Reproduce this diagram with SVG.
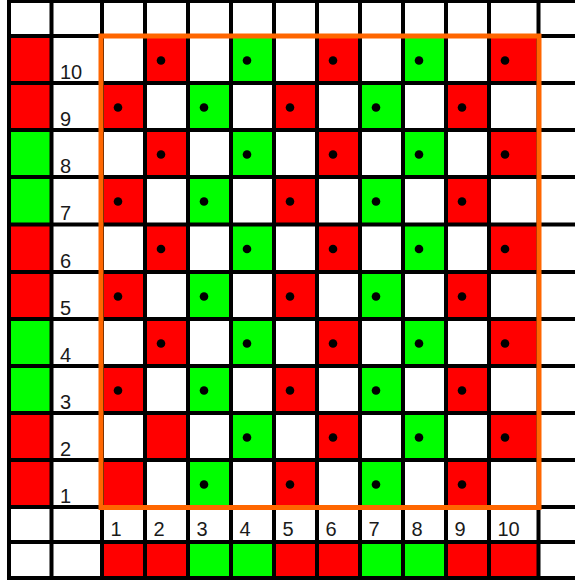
<svg xmlns="http://www.w3.org/2000/svg" width="575" height="583" viewBox="0 0 575 583">
<style>
.r{fill:#FF0000}
.g{fill:#00FF00}
.ln{stroke:#000;stroke-width:4;fill:none}
.d{fill:#000}
.t{font-family:"Liberation Sans",Arial,sans-serif;font-size:20px;fill:#1a1a1a}
.frame{fill:none;stroke:#FF6600;stroke-width:5}
</style>
<rect x="0" y="0" width="575" height="583" fill="#fff"/>
<g id="left-colors">
<rect class="r" x="9" y="36" width="42.5" height="47"/>
<rect class="r" x="9" y="83" width="42.5" height="47"/>
<rect class="g" x="9" y="130" width="42.5" height="47"/>
<rect class="g" x="9" y="177" width="42.5" height="47.5"/>
<rect class="r" x="9" y="224.5" width="42.5" height="47.5"/>
<rect class="r" x="9" y="272" width="42.5" height="47"/>
<rect class="g" x="9" y="319" width="42.5" height="47"/>
<rect class="g" x="9" y="366" width="42.5" height="47"/>
<rect class="r" x="9" y="413" width="42.5" height="47"/>
<rect class="r" x="9" y="460" width="42.5" height="47"/>
</g>
<g id="bottom-colors">
<rect class="r" x="102" y="542" width="43" height="36"/>
<rect class="r" x="145" y="542" width="43" height="36"/>
<rect class="g" x="188" y="542" width="43" height="36"/>
<rect class="g" x="231" y="542" width="43" height="36"/>
<rect class="r" x="274" y="542" width="43" height="36"/>
<rect class="r" x="317" y="542" width="43" height="36"/>
<rect class="g" x="360" y="542" width="43" height="36"/>
<rect class="g" x="403" y="542" width="43" height="36"/>
<rect class="r" x="446" y="542" width="43" height="36"/>
<rect class="r" x="489" y="542" width="49.5" height="36"/>
</g>
<g id="cells">
<rect class="r" x="145" y="36" width="43" height="47"/><rect class="g" x="231" y="36" width="43" height="47"/><rect class="r" x="317" y="36" width="43" height="47"/><rect class="g" x="403" y="36" width="43" height="47"/><rect class="r" x="489" y="36" width="49.5" height="47"/>
<rect class="r" x="102" y="83" width="43" height="47"/><rect class="g" x="188" y="83" width="43" height="47"/><rect class="r" x="274" y="83" width="43" height="47"/><rect class="g" x="360" y="83" width="43" height="47"/><rect class="r" x="446" y="83" width="43" height="47"/>
<rect class="r" x="145" y="130" width="43" height="47"/><rect class="g" x="231" y="130" width="43" height="47"/><rect class="r" x="317" y="130" width="43" height="47"/><rect class="g" x="403" y="130" width="43" height="47"/><rect class="r" x="489" y="130" width="49.5" height="47"/>
<rect class="r" x="102" y="177" width="43" height="47.5"/><rect class="g" x="188" y="177" width="43" height="47.5"/><rect class="r" x="274" y="177" width="43" height="47.5"/><rect class="g" x="360" y="177" width="43" height="47.5"/><rect class="r" x="446" y="177" width="43" height="47.5"/>
<rect class="r" x="145" y="224.5" width="43" height="47.5"/><rect class="g" x="231" y="224.5" width="43" height="47.5"/><rect class="r" x="317" y="224.5" width="43" height="47.5"/><rect class="g" x="403" y="224.5" width="43" height="47.5"/><rect class="r" x="489" y="224.5" width="49.5" height="47.5"/>
<rect class="r" x="102" y="272" width="43" height="47"/><rect class="g" x="188" y="272" width="43" height="47"/><rect class="r" x="274" y="272" width="43" height="47"/><rect class="g" x="360" y="272" width="43" height="47"/><rect class="r" x="446" y="272" width="43" height="47"/>
<rect class="r" x="145" y="319" width="43" height="47"/><rect class="g" x="231" y="319" width="43" height="47"/><rect class="r" x="317" y="319" width="43" height="47"/><rect class="g" x="403" y="319" width="43" height="47"/><rect class="r" x="489" y="319" width="49.5" height="47"/>
<rect class="r" x="102" y="366" width="43" height="47"/><rect class="g" x="188" y="366" width="43" height="47"/><rect class="r" x="274" y="366" width="43" height="47"/><rect class="g" x="360" y="366" width="43" height="47"/><rect class="r" x="446" y="366" width="43" height="47"/>
<rect class="r" x="145" y="413" width="43" height="47"/><rect class="g" x="231" y="413" width="43" height="47"/><rect class="r" x="317" y="413" width="43" height="47"/><rect class="g" x="403" y="413" width="43" height="47"/><rect class="r" x="489" y="413" width="49.5" height="47"/>
<rect class="r" x="102" y="460" width="43" height="47"/><rect class="g" x="188" y="460" width="43" height="47"/><rect class="r" x="274" y="460" width="43" height="47"/><rect class="g" x="360" y="460" width="43" height="47"/><rect class="r" x="446" y="460" width="43" height="47"/>
</g>
<g id="dots">
<circle class="d" cx="161" cy="60.5" r="4.3"/><circle class="d" cx="247" cy="60.5" r="4.3"/><circle class="d" cx="333" cy="60.5" r="4.3"/><circle class="d" cx="419" cy="60.5" r="4.3"/><circle class="d" cx="505" cy="60.5" r="4.3"/>
<circle class="d" cx="118" cy="107.5" r="4.3"/><circle class="d" cx="204" cy="107.5" r="4.3"/><circle class="d" cx="290" cy="107.5" r="4.3"/><circle class="d" cx="376" cy="107.5" r="4.3"/><circle class="d" cx="462" cy="107.5" r="4.3"/>
<circle class="d" cx="161" cy="154.5" r="4.3"/><circle class="d" cx="247" cy="154.5" r="4.3"/><circle class="d" cx="333" cy="154.5" r="4.3"/><circle class="d" cx="419" cy="154.5" r="4.3"/><circle class="d" cx="505" cy="154.5" r="4.3"/>
<circle class="d" cx="118" cy="201.5" r="4.3"/><circle class="d" cx="204" cy="201.5" r="4.3"/><circle class="d" cx="290" cy="201.5" r="4.3"/><circle class="d" cx="376" cy="201.5" r="4.3"/><circle class="d" cx="462" cy="201.5" r="4.3"/>
<circle class="d" cx="161" cy="249" r="4.3"/><circle class="d" cx="247" cy="249" r="4.3"/><circle class="d" cx="333" cy="249" r="4.3"/><circle class="d" cx="419" cy="249" r="4.3"/><circle class="d" cx="505" cy="249" r="4.3"/>
<circle class="d" cx="118" cy="296.5" r="4.3"/><circle class="d" cx="204" cy="296.5" r="4.3"/><circle class="d" cx="290" cy="296.5" r="4.3"/><circle class="d" cx="376" cy="296.5" r="4.3"/><circle class="d" cx="462" cy="296.5" r="4.3"/>
<circle class="d" cx="161" cy="343.5" r="4.3"/><circle class="d" cx="247" cy="343.5" r="4.3"/><circle class="d" cx="333" cy="343.5" r="4.3"/><circle class="d" cx="419" cy="343.5" r="4.3"/><circle class="d" cx="505" cy="343.5" r="4.3"/>
<circle class="d" cx="118" cy="390.5" r="4.3"/><circle class="d" cx="204" cy="390.5" r="4.3"/><circle class="d" cx="290" cy="390.5" r="4.3"/><circle class="d" cx="376" cy="390.5" r="4.3"/><circle class="d" cx="462" cy="390.5" r="4.3"/>
<circle class="d" cx="247" cy="437.5" r="4.3"/><circle class="d" cx="333" cy="437.5" r="4.3"/><circle class="d" cx="419" cy="437.5" r="4.3"/><circle class="d" cx="505" cy="437.5" r="4.3"/>
<circle class="d" cx="204" cy="484.5" r="4.3"/><circle class="d" cx="290" cy="484.5" r="4.3"/><circle class="d" cx="376" cy="484.5" r="4.3"/><circle class="d" cx="462" cy="484.5" r="4.3"/>
</g>
<g id="gridlines" class="ln">
<path d="M7 1H575M7 36H575M7 83H575M7 130H575M7 177H575M7 224.5H575M7 272H575M7 319H575M7 366H575M7 413H575M7 460H575M7 507H575M7 542H575M7 578H575"/>
<path d="M9 -1V580M51.5 -1V580M102 -1V580M145 -1V580M188 -1V580M231 -1V580M274 -1V580M317 -1V580M360 -1V580M403 -1V580M446 -1V580M489 -1V580M538.5 -1V580"/>
</g>
<g id="row-labels" class="t">
<text x="60" y="79">10</text>
<text x="60" y="125.5">9</text>
<text x="60" y="172.5">8</text>
<text x="60" y="220">7</text>
<text x="60" y="267.5">6</text>
<text x="60" y="314.5">5</text>
<text x="60" y="361.5">4</text>
<text x="60" y="408.5">3</text>
<text x="60" y="455.5">2</text>
<text x="60" y="502.5">1</text>
</g>
<g id="col-labels" class="t">
<text x="110.5" y="536">1</text>
<text x="153.5" y="536">2</text>
<text x="196.5" y="536">3</text>
<text x="239.5" y="536">4</text>
<text x="282.5" y="536">5</text>
<text x="325.5" y="536">6</text>
<text x="368.5" y="536">7</text>
<text x="411.5" y="536">8</text>
<text x="454.5" y="536">9</text>
<text x="497.5" y="536">10</text>
</g>
<g id="frame">
<rect class="frame" x="101" y="36" width="438" height="471.5"/>
</g>
</svg>
